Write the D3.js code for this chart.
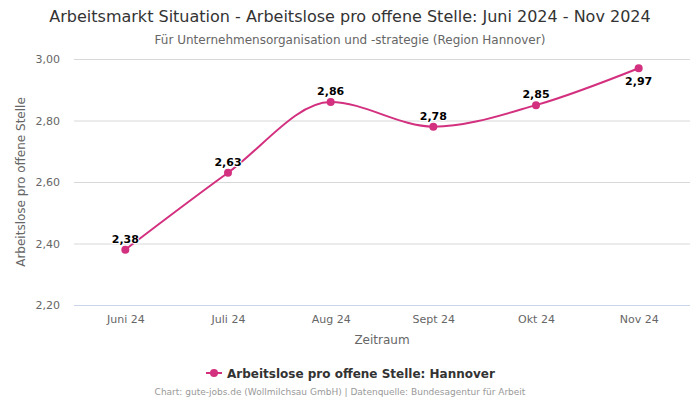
<!DOCTYPE html>
<html><head><meta charset="utf-8">
<script src="https://cdn.jsdelivr.net/npm/d3@7"></script>
<style>body{margin:0;background:#fff;font-family:"DejaVu Sans",sans-serif;}</style>
</head><body><svg id="c" width="700" height="400"></svg>
<script>
const categories = ["Juni 24","Juli 24","Aug 24","Sept 24","Okt 24","Nov 24"];
const values = [2.38, 2.63, 2.86, 2.78, 2.85, 2.97];
const labels = ["2,38","2,63","2,86","2,78","2,85","2,97"];
const yTicks = [2.2, 2.4, 2.6, 2.8, 3.0];
const color = "#d3307f";

const svg = d3.select("#c");
const pL = 74, pR = 690, pT = 59, pB = 305;
const x = d3.scalePoint().domain(categories).range([pL, pR]).padding(0.5);
const y = d3.scaleLinear().domain([2.2, 3.0]).range([pB, pT]);
const fmt = d => d.toFixed(2).replace(".", ",");

svg.append("text").attr("x", 350).attr("y", 22).attr("text-anchor", "middle")
  .attr("font-size", 16).attr("fill", "#333").text("Arbeitsmarkt Situation - Arbeitslose pro offene Stelle: Juni 2024 - Nov 2024");
svg.append("text").attr("x", 350).attr("y", 44).attr("text-anchor", "middle")
  .attr("font-size", 12).attr("fill", "#666").text("Für Unternehmensorganisation und -strategie (Region Hannover)");

const yAxis = d3.axisLeft(y).tickValues(yTicks).tickSize(-(pR - pL)).tickFormat(fmt);
const gy = svg.append("g").attr("transform", `translate(${pL},0)`).call(yAxis);
gy.select(".domain").remove();
gy.selectAll(".tick line").attr("stroke", "#d8d8d8");
gy.selectAll(".tick text").attr("x", -14).attr("font-size", 11).attr("fill", "#666").attr("font-family", "DejaVu Sans");

const xAxis = d3.axisBottom(x).tickSize(0).tickPadding(10);
const gx = svg.append("g").attr("transform", `translate(0,${pB})`).call(xAxis);
gx.select(".domain").attr("stroke", "#ccd6eb").attr("d", `M${pL},0.5H${pR}`);
gx.selectAll(".tick text").attr("font-size", 11).attr("fill", "#666").attr("font-family", "DejaVu Sans");

svg.append("text").attr("x", 382).attr("y", 344).attr("text-anchor", "middle")
  .attr("font-size", 12).attr("fill", "#666").text("Zeitraum");
svg.append("text").attr("transform", "translate(25,182) rotate(-90)").attr("text-anchor", "middle")
  .attr("font-size", 12).attr("fill", "#666").text("Arbeitslose pro offene Stelle");

const line = d3.line().x((d, i) => x(categories[i])).y(d => y(d)).curve(d3.curveMonotoneX);
svg.append("path").datum(values).attr("d", line).attr("fill", "none").attr("stroke", color).attr("stroke-width", 2);
svg.selectAll("circle.pt").data(values).enter().append("circle").attr("class", "pt")
  .attr("cx", (d, i) => x(categories[i])).attr("cy", d => y(d)).attr("r", 4).attr("fill", color);
svg.selectAll("text.lbl").data(values).enter().append("text").attr("class", "lbl")
  .attr("x", (d, i) => x(categories[i])).attr("y", (d, i) => i === 5 ? y(d) + 17 : y(d) - 7)
  .attr("text-anchor", "middle").attr("font-size", 11).attr("font-weight", "bold").attr("fill", "#000")
  .attr("stroke", "#fff").attr("stroke-width", 2).attr("paint-order", "stroke").text((d, i) => labels[i]);

const lg = svg.append("g");
lg.append("line").attr("x1", 206).attr("x2", 222).attr("y1", 373).attr("y2", 373).attr("stroke", color).attr("stroke-width", 2);
lg.append("circle").attr("cx", 214).attr("cy", 373).attr("r", 4).attr("fill", color);
lg.append("text").attr("x", 227).attr("y", 377.5).attr("font-size", 12).attr("font-weight", "bold").attr("fill", "#333")
  .text("Arbeitslose pro offene Stelle: Hannover");

svg.append("text").attr("x", 340).attr("y", 395).attr("text-anchor", "middle").attr("font-size", 9).attr("fill", "#999")
  .text("Chart: gute-jobs.de (Wollmilchsau GmbH) | Datenquelle: Bundesagentur für Arbeit");
</script></body></html>
